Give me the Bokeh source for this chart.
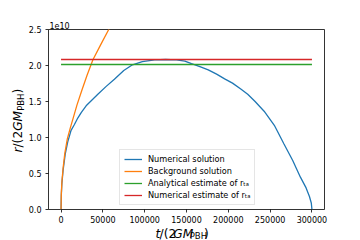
import math
from bokeh.plotting import figure
from bokeh.models import Range1d, FixedTicker, Label, Title
from bokeh.layouts import row, column
from bokeh.embed import file_html
from bokeh.resources import INLINE

# ---- data (t in units of 2GM_PBH, r in units of 1e10 * 2GM_PBH) ----
t_num = [0, 300, 1000, 2500, 5000, 8000, 12000, 16000, 20000, 24300, 30000, 37000,
         44000, 54000, 63800, 75000, 85400, 97200, 112000, 125000, 138000, 148000,
         156000, 166000, 176000, 186000, 195600, 205000, 215300, 223200, 232000,
         242800, 255000, 266400, 277000, 286200, 293000, 297000, 299200, 300000]
r_num = [0, 0.19, 0.36, 0.55, 0.77, 0.94, 1.10, 1.18, 1.27, 1.35, 1.44, 1.52,
         1.60, 1.71, 1.81, 1.93, 2.01, 2.055, 2.078, 2.083, 2.078, 2.06,
         2.025, 1.985, 1.94, 1.88, 1.815, 1.755, 1.67, 1.60, 1.50,
         1.365, 1.17, 0.9125, 0.68, 0.449, 0.30, 0.18, 0.09, 0]

t_bg = [0, 300, 1000, 2500, 4500, 7500, 11000, 14500, 19000, 25000, 31000, 38100,
        47000, 57000, 60000]
r_bg = [0, 0.21, 0.38, 0.58, 0.78, 0.98, 1.13, 1.27, 1.45, 1.66, 1.86, 2.08,
        2.28, 2.50, 2.57]

t_span = [0, 300000]
r_ta_analytic = 2.014
r_ta_numeric = 2.083

x_ticks = [0, 50000, 100000, 150000, 200000, 250000, 300000]
x_tick_labels = ["0", "50000", "100000", "150000", "200000", "250000", "300000"]
y_ticks = [0.0, 0.5, 1.0, 1.5, 2.0, 2.5]
y_tick_labels = ["0.0", "0.5", "1.0", "1.5", "2.0", "2.5"]
offset_text = "1e10"

series_names = ["Numerical solution", "Background solution",
                "Analytical estimate of r\u209c\u2090", "Numerical estimate of r\u209c\u2090"]
colors = ["#1f77b4", "#ff7f0e", "#2ca02c", "#d62728"]

# ---- layout (page is 360 x 240) ----
YLAB_W = 25          # strip on the left holding the rotated y label
MAIN_H = 225         # main figure height; strip below holds the x label
XLAB_H = 240 - MAIN_H
MAIN_W = 360 - YLAB_W
FRAME_L, FRAME_R, FRAME_T, FRAME_B = 45, 324, 29, 209   # frame in page pixels
X0, X1 = -15000, 315000
Y0, Y1 = 0.0, 2.5
FONT = "DejaVu Sans"

p = figure(width=MAIN_W, height=MAIN_H, output_backend="svg", toolbar_location=None,
           title=None, x_range=Range1d(X0, X1), y_range=Range1d(Y0, Y1),
           min_border_left=FRAME_L - YLAB_W, min_border_right=360 - FRAME_R,
           min_border_top=FRAME_T, min_border_bottom=MAIN_H - FRAME_B)
p.xgrid.grid_line_color = None
p.ygrid.grid_line_color = None
p.background_fill_color = "white"
p.border_fill_color = "white"
p.outline_line_color = "black"
p.outline_line_width = 0.8

lw = 1.3
p.line(t_num, r_num, line_color=colors[0], line_width=lw, legend_label=series_names[0])
p.line(t_bg, r_bg, line_color=colors[1], line_width=lw, legend_label=series_names[1])
p.line(t_span, [r_ta_analytic] * 2, line_color=colors[2], line_width=lw, legend_label=series_names[2])
p.line(t_span, [r_ta_numeric] * 2, line_color=colors[3], line_width=lw, legend_label=series_names[3])

p.xaxis.ticker = FixedTicker(ticks=x_ticks)
p.yaxis.ticker = FixedTicker(ticks=y_ticks)
p.xaxis.major_label_overrides = dict(zip(x_ticks, x_tick_labels))
p.yaxis.major_label_overrides = dict(zip(y_ticks, y_tick_labels))
for ax in (p.xaxis[0], p.yaxis[0]):
    ax.axis_line_color = None
    ax.major_tick_out = 3
    ax.major_tick_in = 0
    ax.minor_tick_out = 0
    ax.minor_tick_in = 0
    ax.major_tick_line_width = 0.8
    ax.major_tick_line_color = "black"
    ax.major_label_text_font = FONT
    ax.major_label_text_font_size = "8px"
    ax.major_label_text_color = "black"
p.xaxis.major_label_standoff = 3
p.yaxis.major_label_standoff = 4

leg = p.legend[0]
leg.location = (71, 4)
leg.padding = 4
leg.spacing = 2
leg.margin = 0
leg.label_height = 10
leg.glyph_height = 10
leg.glyph_width = 18
leg.label_standoff = 6
leg.label_text_font = FONT
leg.label_text_font_size = "8.2px"
leg.label_text_color = "black"
leg.border_line_color = "#cccccc"
leg.border_line_width = 1
leg.background_fill_alpha = 0.8

# offset text "1e10" above the top-left corner of the frame
p.add_layout(Title(text=offset_text, align="left", offset=1, standoff=1,
                   text_font=FONT, text_font_size="8px", text_font_style="normal",
                   text_color="black"), "above")


def strip(w, h):
    f = figure(width=w, height=h, output_backend="svg", toolbar_location=None,
               title=None, x_range=Range1d(0, w), y_range=Range1d(0, h),
               x_axis_type=None, y_axis_type=None,
               min_border=0, min_border_left=0, min_border_right=0,
               min_border_top=0, min_border_bottom=0)
    f.outline_line_color = None
    f.xgrid.grid_line_color = None
    f.ygrid.grid_line_color = None
    f.background_fill_color = "white"
    f.border_fill_color = "white"
    return f


EM = {"t": 0.392, "r": 0.411, "/": 0.337, "(": 0.390, ")": 0.390, "2": 0.636,
      "G": 0.775, "M": 0.863, "P": 0.603, "B": 0.686, "H": 0.752}
F = 12.2
SUB = 0.7
SHIFT = 0.3   # observed offset of the drawn baseline from the anchor, in em


def width(text, size):
    return sum(EM[c] for c in text) * size


def add_label(f, x, y, text, ital, size, angle=0.0):
    f.add_layout(Label(x=x, y=y, text=text, angle=angle,
                       text_font=FONT, text_font_style="italic" if ital else "normal",
                       text_font_size=f"{size:.2f}px", text_color="black",
                       text_align="left", text_baseline="alphabetic"))


# x label strip: page x -> strip x = page_x - YLAB_W; page y -> strip y = 240 - page_y
xs = strip(MAIN_W, XLAB_H)
x_pieces = [("t", True, 1.0, 0.0), ("/(2", False, 1.0, 0.0), ("GM", True, 1.0, 0.0),
            ("PBH", False, SUB, 1.2), (")", False, 1.0, 0.0)]
cx = 155.0
base = 237.3
for text, ital, sc, drop in x_pieces:
    size = F * sc
    anchor_y = base + drop - SHIFT * size
    add_label(xs, cx - YLAB_W, 240 - anchor_y, text, ital, size)
    cx += width(text, size)

# y label strip: page x -> strip x; page y -> strip y = MAIN_H - page_y
ys = strip(YLAB_W, MAIN_H)
y_pieces = [("r", True, 1.0, 0.0), ("/(2", False, 1.0, 0.0), ("GM", True, 1.0, 0.0),
            ("PBH", False, SUB, 1.4), (")", False, 1.0, 0.0)]
cy = 152.0
bx = 21.2
for text, ital, sc, drop in y_pieces:
    size = F * sc
    anchor_x = bx + drop - SHIFT * size
    add_label(ys, anchor_x, MAIN_H - cy, text, ital, size, angle=math.pi / 2)
    cy -= width(text, size)

layout = row(ys, column(p, xs, spacing=0), spacing=0)
open("out.html", "w").write(file_html(layout, INLINE))
